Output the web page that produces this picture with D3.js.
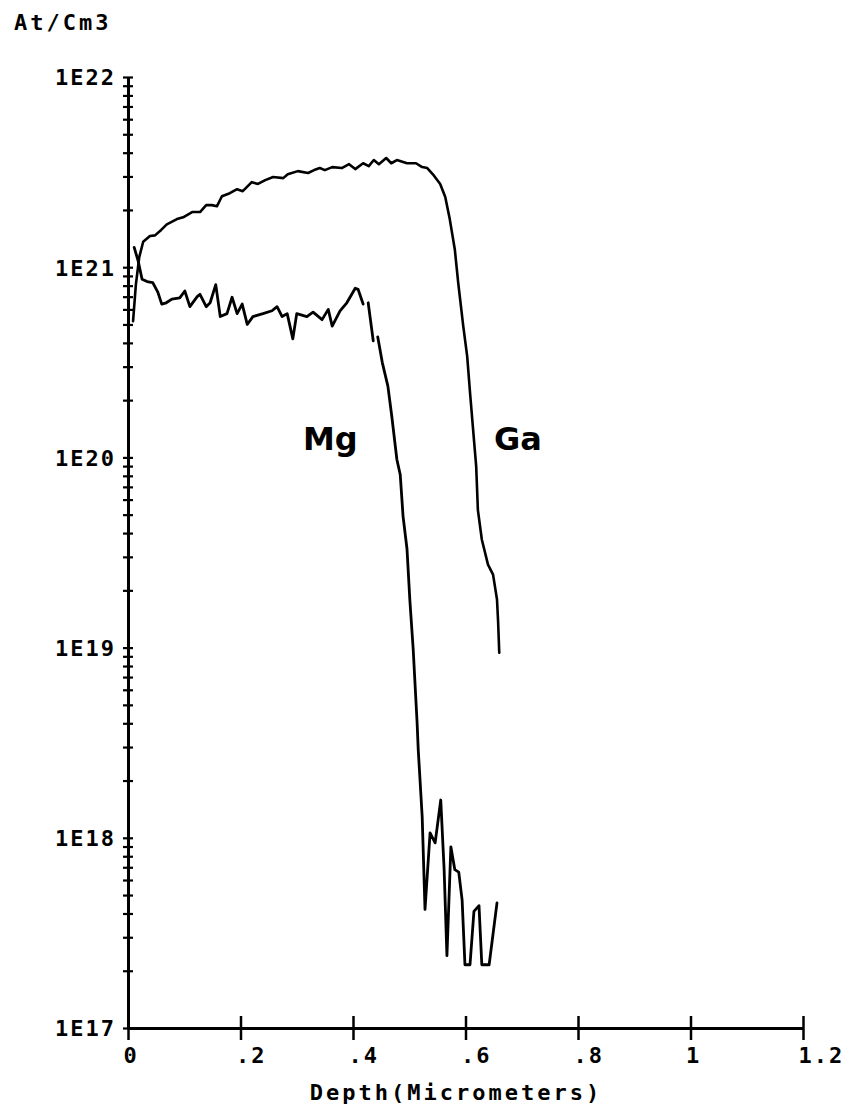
<!DOCTYPE html>
<html><head><meta charset="utf-8">
<script src="https://cdn.jsdelivr.net/npm/d3@7"></script>
<style>
html,body{margin:0;padding:0;background:#fff;}
svg{display:block;}
</style></head>
<body>
<svg id="chart" width="849" height="1110"></svg>
<script>
// ---- data ----
const xTicks = [0, 0.2, 0.4, 0.6, 0.8, 1, 1.2];
const xTickLabels = ["0", ".2", ".4", ".6", ".8", "1", "1.2"];
const yDecades = [1e17, 1e18, 1e19, 1e20, 1e21, 1e22];
const yDecadeLabels = ["1E17", "1E18", "1E19", "1E20", "1E21", "1E22"];
const yTitle = "At/Cm3";
const xTitle = "Depth(Micrometers)";
const seriesNames = ["Mg", "Ga"];

const gaDepth = [0.009,0.014,0.020,0.027,0.039,0.048,0.059,0.069,0.087,0.098,0.114,0.128,0.139,0.149,0.158,0.167,0.181,0.194,0.204,0.220,0.231,0.244,0.258,0.276,0.284,0.302,0.320,0.331,0.341,0.350,0.363,0.380,0.393,0.404,0.418,0.428,0.437,0.446,0.459,0.468,0.478,0.496,0.512,0.523,0.532,0.542,0.555,0.564,0.572,0.581,0.587,0.596,0.603,0.608,0.613,0.619,0.622,0.629,0.640,0.649,0.656,0.658,0.660];
const gaConc = [5.2e20,8.1e20,1.13e21,1.36e21,1.46e21,1.47e21,1.57e21,1.68e21,1.79e21,1.83e21,1.95e21,1.95e21,2.12e21,2.12e21,2.09e21,2.36e21,2.45e21,2.57e21,2.51e21,2.80e21,2.74e21,2.87e21,2.98e21,2.94e21,3.08e21,3.2e21,3.13e21,3.24e21,3.32e21,3.24e21,3.36e21,3.32e21,3.48e21,3.28e21,3.52e21,3.40e21,3.66e21,3.48e21,3.75e21,3.52e21,3.66e21,3.52e21,3.52e21,3.36e21,3.32e21,3.08e21,2.74e21,2.34e21,1.79e21,1.24e21,8.3e20,4.9e20,3.4e20,2.2e20,1.46e20,8.97e19,5.3e19,3.7e19,2.73e19,2.42e19,1.79e19,1.36e19,9.4e18];

const mgDepth = [0.011,0.018,0.025,0.034,0.044,0.053,0.060,0.068,0.078,0.092,0.101,0.110,0.123,0.128,0.139,0.146,0.156,0.164,0.176,0.185,0.194,0.203,0.212,0.222,0.240,0.256,0.265,0.274,0.283,0.293,0.300,0.318,0.329,0.345,0.356,0.363,0.377,0.389,0.404,0.409,0.418,0.4225,0.427,0.436,0.440,0.444,0.452,0.462,0.469,0.478,0.484,0.489,0.496,0.501,0.507,0.514,0.516,0.523,0.528,0.537,0.546,0.556,0.562,0.567,0.574,0.581,0.588,0.594,0.599,0.608,0.615,0.624,0.629,0.642,0.656];
const mgConc = [1.27e21,1.08e21,8.65e20,8.4e20,8.3e20,7.4e20,6.4e20,6.5e20,6.8e20,6.9e20,7.5e20,6.2e20,7.0e20,7.2e20,6.2e20,6.5e20,8.1e20,5.5e20,5.7e20,6.95e20,5.7e20,6.4e20,5.0e20,5.5e20,5.7e20,5.9e20,6.2e20,5.5e20,5.7e20,4.2e20,5.7e20,5.5e20,5.8e20,5.3e20,6.0e20,4.9e20,5.9e20,6.5e20,7.75e20,7.65e20,6.4e20,null,6.5e20,4.1e20,null,4.3e20,3.16e20,2.37e20,1.64e20,9.75e19,8.1e19,4.9e19,3.3e19,1.79e19,9.8e18,4.0e18,2.9e18,1.29e18,4.2e17,1.06e18,9.4e17,1.58e18,6.8e17,2.4e17,8.97e17,6.8e17,6.6e17,4.7e17,2.15e17,2.15e17,4.1e17,4.4e17,2.15e17,2.15e17,4.55e17];

// ---- drawing ----
const svg = d3.select("#chart");
const x = d3.scaleLinear().domain([0, 1.2]).range([128, 803]);
const y = d3.scaleLog().domain([1e17, 1e22]).range([1028, 77]);
const monoFont = "'DejaVu Sans Mono', 'Liberation Mono', monospace";

// minor + major y ticks
const yAllTicks = [];
for (let e = 17; e < 22; e++) for (let m = 1; m <= 9; m++) yAllTicks.push(m * Math.pow(10, e));
yAllTicks.push(1e22);

const yAxis = d3.axisLeft(y)
  .tickValues(yAllTicks)
  .tickSizeInner(0).tickSizeOuter(0).tickPadding(12)
  .tickFormat(d => { const i = yDecades.findIndex(v => Math.abs(v - d) / d < 1e-6); return i >= 0 ? yDecadeLabels[i] : ""; });
const gy = svg.append("g").attr("transform", `translate(${x(0)},0)`).call(yAxis);
gy.select(".domain").attr("stroke", "#000").attr("stroke-width", 3);
gy.selectAll(".tick line").attr("x1", -5).attr("x2", 5).attr("stroke", "#000").attr("stroke-width", 2.2);
gy.selectAll(".tick text").attr("font-family", monoFont).attr("font-weight", "bold")
  .attr("font-size", 22).attr("letter-spacing", 2).attr("fill", "#000").attr("dy", "0.36em");

const xAxis = d3.axisBottom(x)
  .tickValues(xTicks).tickSizeInner(0).tickSizeOuter(0).tickPadding(0)
  .tickFormat((d, i) => xTickLabels[i]);
const gx = svg.append("g").attr("transform", `translate(0,${y(1e17)})`).call(xAxis);
gx.select(".domain").attr("stroke", "#000").attr("stroke-width", 3);
gx.selectAll(".tick line").attr("y1", -12).attr("y2", 12).attr("stroke", "#000").attr("stroke-width", 2.5);
gx.selectAll(".tick text").attr("font-family", monoFont).attr("font-weight", "bold")
  .attr("font-size", 22).attr("letter-spacing", 2).attr("fill", "#000")
  .attr("text-anchor", "start").attr("x", -5).attr("y", 35).attr("dy", 0);

// axis titles
svg.append("text").attr("x", 14).attr("y", 30).text(yTitle)
  .attr("font-family", monoFont).attr("font-weight", "bold").attr("font-size", 22).attr("letter-spacing", 3);
svg.append("text").attr("x", 456).attr("y", 1100).attr("text-anchor", "middle").text(xTitle)
  .attr("font-family", monoFont).attr("font-weight", "bold").attr("font-size", 22).attr("letter-spacing", 3);

// lines
const line = d3.line().defined(d => d[1] != null).x(d => x(d[0])).y(d => y(d[1]));
const gaData = gaDepth.map((d, i) => [d, gaConc[i]]);
const mgData = mgDepth.map((d, i) => [d, mgConc[i]]);
svg.append("path").datum(gaData).attr("d", line).attr("fill", "none").attr("stroke", "#000")
  .attr("stroke-width", 2.6).attr("stroke-linejoin", "round").attr("stroke-linecap", "round");
svg.append("path").datum(mgData).attr("d", line).attr("fill", "none").attr("stroke", "#000")
  .attr("stroke-width", 2.8).attr("stroke-linejoin", "round").attr("stroke-linecap", "round");

// series labels
svg.append("text").attr("x", 303).attr("y", 450).text(seriesNames[0])
  .attr("font-family", "'DejaVu Sans', sans-serif").attr("font-weight", "bold").attr("font-size", 32);
svg.append("text").attr("x", 494).attr("y", 450).text(seriesNames[1])
  .attr("font-family", "'DejaVu Sans', sans-serif").attr("font-weight", "bold").attr("font-size", 32);
</script>
</body></html>
